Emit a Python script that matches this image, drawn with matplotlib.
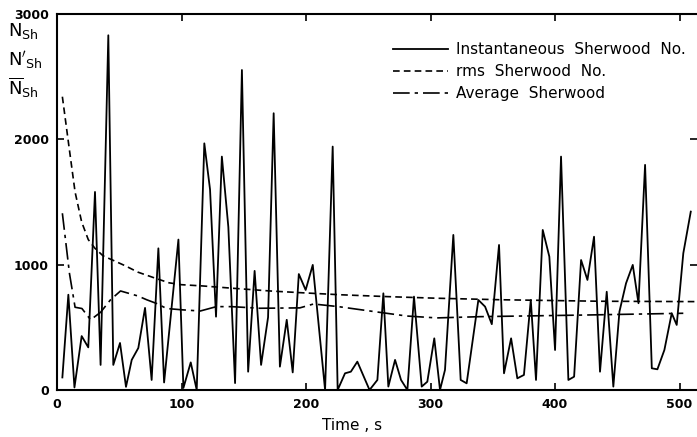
import matplotlib.pyplot as plt

# instantaneous Sherwood number
t_inst = [4.3, 9.1, 14.0, 19.8, 25.1, 30.5, 35.0, 41.2, 45.2, 50.6, 55.4, 60.0, 65.3, 70.7,
          76.0, 81.4, 86.0, 97.5, 101.5, 107.4, 112.2, 118.3, 122.9, 127.7, 132.4, 137.6,
          143.0, 148.5, 153.5, 158.7, 163.9, 169.5, 174.0, 179.0, 184.5, 189.3, 194.2, 199.7,
          205.4, 215.3, 221.4, 225.4, 231.3, 236.0, 241.2, 251.0, 257.3, 262.1, 266.1, 271.5,
          276.3, 281.4, 286.7, 292.9, 297.4, 303.0, 307.6, 311.6, 318.3, 324.2, 329.0, 338.4,
          343.8, 349.2, 355.0, 359.0, 364.7, 369.7, 375.0, 380.5, 384.7, 390.1, 395.4, 400.0,
          404.8, 410.7, 415.3, 420.9, 426.0, 431.3, 436.1, 441.5, 446.8, 451.7, 457.0, 462.4,
          467.0, 472.3, 477.7, 482.2, 487.8, 493.7, 497.7, 503.0, 509.0]
sh_inst = [100, 760, 20, 430, 340, 1580, 200, 2830, 200, 375, 25, 240, 335, 655,
           80, 1130, 60, 1200, 16, 220, 0, 1968, 1600, 585, 1862, 1300,
           55, 2553, 146, 950, 200, 580, 2208, 186, 560, 140, 925, 798,
           998, 0, 1942, 0, 133, 146, 226, 0, 80, 771, 27, 240,
           80, 0, 745, 27, 66, 412, 0, 160, 1237, 80, 53, 718,
           665, 525, 1157, 133, 412, 93, 120, 718, 80, 1277, 1064, 319,
           1862, 80, 106, 1037, 878, 1223, 146, 784, 27, 625, 851, 998,
           692, 1796, 173, 165, 319, 612, 519, 1091, 1423]

# rms Sherwood number
t_rms = [4.3, 9.5, 14.5, 19.8, 25.1, 30.5, 37, 45, 55, 65, 78, 90, 100, 117, 142,
         171, 198, 227, 265, 305, 356, 436, 514]
sh_rms = [2340, 1950, 1580, 1340, 1200, 1130, 1070, 1035, 990, 940, 895, 855, 840, 830, 811,
          790, 775, 760, 745, 732, 720, 708, 705]

# average Sherwood number
t_avg = [4.3, 10, 14.5, 20, 27, 35, 43, 51, 58, 65, 72, 80, 88, 100, 115, 128, 140,
         163, 195, 206, 226, 255, 281, 305, 340, 424, 503]
sh_avg = [1410, 930, 660, 650, 560, 620, 720, 790, 770, 750, 720, 690, 650, 640, 630, 665, 665,
          652, 655, 686, 665, 625, 590, 575, 585, 598, 612]

labels = ["Instantaneous  Sherwood  No.", "rms  Sherwood  No.", "Average  Sherwood"]

plt.rcParams['mathtext.fontset'] = 'dejavusans'
fig = plt.figure(figsize=(6.97, 4.37), dpi=100)
ax = fig.add_axes([0.0818, 0.1076, 0.9182, 0.8604])

ax.plot(t_inst, sh_inst, color='black', lw=1.3, label=labels[0])
ax.plot(t_rms, sh_rms, color='black', lw=1.2, linestyle=(0, (4, 2.5)), label=labels[1])
ax.plot(t_avg, sh_avg, color='black', lw=1.2, linestyle=(0, (10, 3, 2, 3)), label=labels[2])

ax.set_xlim(0, 514)
ax.set_ylim(0, 3000)
ax.set_xticks([0, 100, 200, 300, 400, 500])
ax.set_yticks([0, 1000, 2000, 3000])
ax.tick_params(direction='in', top=True, right=True, length=5, width=1.2,
               labelsize=9, pad=6)
for lab in ax.get_xticklabels() + ax.get_yticklabels():
    lab.set_fontweight('bold')
ax.spines['right'].set_visible(False)
for s in ['left', 'top', 'bottom']:
    ax.spines[s].set_linewidth(1.5)

leg = ax.legend(loc='upper left', bbox_to_anchor=(0.525, 0.925), frameon=False,
                fontsize=11, handlelength=3.6, handletextpad=0.5, labelspacing=0.45,
                borderpad=0, borderaxespad=0)

fig.text(0.505, 0.027, "Time , s", fontsize=11, ha='center', va='center')
fig.text(0.012, 0.93, r'$\mathrm{N_{Sh}}$', fontsize=13, ha='left', va='center')
fig.text(0.012, 0.862, r"$\mathrm{N'_{Sh}}$", fontsize=13, ha='left', va='center')
fig.text(0.012, 0.8, r'$\mathrm{\overline{N}_{Sh}}$', fontsize=13, ha='left', va='center')

fig.savefig('out.png', dpi=100)
